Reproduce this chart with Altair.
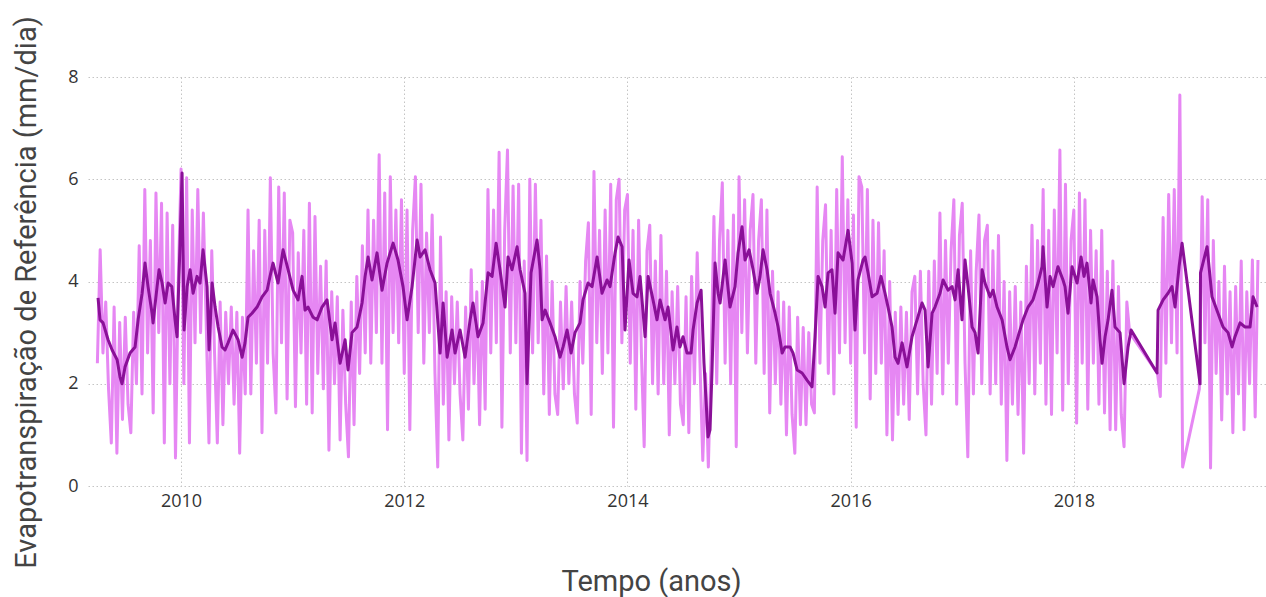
import altair as alt
import pandas as pd

# ---- Daily reference evapotranspiration (light series), sampled every 1/40 year ----
# 2009 starts at 2009 + 10/40
et0_2009 = [2.40, 4.62, 2.60, 3.60, 1.90, 0.84, 3.50, 0.64, 3.20, 1.30, 3.30, 1.60, 1.04, 3.40, 2.00,
            4.70, 1.80, 5.80, 2.60, 4.80, 1.43, 5.73, 3.00, 5.53, 0.84, 5.34, 2.00, 5.10, 0.55, 4.00]
et0_2010 = [6.20, 2.00, 6.03, 0.84, 5.40, 2.80, 5.80, 3.00, 5.34, 3.20, 0.84, 4.60, 2.60, 0.84, 3.60,
            1.20, 3.40, 2.00, 3.50, 1.60, 3.40, 0.64, 3.30, 1.80, 5.40, 1.80, 4.60, 2.40, 5.20, 1.04,
            5.00, 2.40, 6.03, 2.60, 1.43, 5.85, 2.80, 5.73, 1.70, 5.20]
et0_2011 = [4.95, 1.55, 4.56, 2.60, 5.00, 1.60, 5.53, 1.43, 5.27, 2.20, 4.30, 1.90, 4.40, 0.70, 3.80,
            2.00, 3.70, 0.90, 3.44, 1.60, 0.57, 3.60, 1.20, 4.10, 2.20, 4.70, 2.60, 5.40, 2.40, 5.20,
            3.00, 6.48, 2.40, 5.73, 1.10, 6.05, 3.00, 5.40, 2.80, 5.60]
et0_2012 = [2.20, 5.40, 1.10, 5.00, 6.05, 3.00, 5.90, 2.40, 4.95, 3.00, 5.30, 2.20, 0.37, 4.87, 1.60,
            3.80, 0.90, 3.70, 2.00, 3.60, 1.80, 0.90, 3.50, 1.50, 4.23, 2.00, 3.80, 1.20, 4.00, 1.50,
            5.80, 2.60, 5.40, 2.80, 6.53, 1.15, 5.00, 6.57, 2.60, 5.87]
et0_2013 = [2.80, 5.90, 0.64, 4.40, 0.50, 6.00, 2.60, 5.90, 2.80, 5.20, 1.80, 4.50, 1.40, 4.00, 1.80,
            1.40, 3.60, 1.90, 3.90, 2.00, 3.60, 1.80, 1.23, 4.00, 2.40, 4.40, 5.15, 1.40, 6.15, 2.80,
            5.00, 2.20, 5.40, 2.60, 5.90, 1.15, 5.60, 6.00, 2.80, 5.40]
et0_2014 = [5.70, 2.40, 5.00, 1.50, 5.20, 2.60, 0.77, 4.60, 5.10, 2.00, 4.40, 1.80, 4.90, 2.00, 4.20,
            1.00, 3.80, 2.00, 3.90, 1.60, 1.20, 3.70, 1.04, 4.10, 2.00, 4.56, 2.40, 0.50, 2.20, 0.37,
            2.60, 5.27, 2.00, 4.80, 5.93, 2.40, 5.00, 2.00, 5.30, 0.77]
et0_2015 = [6.05, 3.00, 5.60, 2.60, 5.00, 5.70, 2.40, 4.80, 5.60, 2.20, 5.40, 1.43, 4.20, 2.00, 3.80,
            1.60, 3.60, 1.00, 3.50, 1.40, 0.64, 3.30, 1.20, 3.10, 1.20, 3.00, 1.60, 1.43, 5.85, 2.40,
            4.80, 5.50, 2.20, 5.00, 1.80, 5.80, 2.60, 6.44, 2.80, 5.60]
et0_2016 = [2.40, 5.30, 1.15, 6.05, 5.85, 2.60, 5.80, 1.70, 5.20, 2.20, 5.15, 2.40, 4.60, 1.00, 4.00,
            0.90, 3.40, 1.40, 3.50, 1.60, 3.40, 1.30, 3.80, 4.10, 1.80, 4.20, 2.00, 1.00, 4.20, 1.60,
            4.40, 2.20, 5.34, 1.80, 4.80, 2.40, 4.60, 5.60, 1.60, 4.90]
et0_2017 = [5.53, 2.40, 0.57, 4.60, 1.80, 4.20, 5.30, 2.00, 4.80, 5.10, 1.80, 4.60, 2.00, 4.90, 1.60,
            4.00, 0.50, 3.80, 1.60, 3.90, 1.40, 3.60, 0.64, 4.30, 2.00, 5.10, 1.80, 4.80, 2.40, 5.80,
            1.60, 5.00, 1.40, 5.40, 2.60, 6.57, 1.48, 5.90, 2.00, 4.80]
et0_2018 = [5.40, 1.23, 5.73, 2.40, 5.60, 1.50, 5.00, 2.40, 4.60, 1.60, 5.00, 1.43, 4.20, 1.10, 4.40,
            1.10, 3.90, 1.40, 0.77, 3.60, 3.00, None, None, None, None, None, None, None, None, None,
            2.20, 1.75, 5.25, 2.40, 5.70, 2.80, 5.80, 2.60, 7.65, 0.37]
et0_2019 = [None, None, None, None, None, 1.90, 5.66, 2.80, 5.60, 0.35, 4.80, 2.20, 4.00, 1.29, 4.30,
            1.80, 3.80, 1.04, 3.90, 1.80, 4.40, 1.10, 3.80, 2.00, 4.42, 1.35, 4.42]

light_years = [(2009, 10, et0_2009), (2010, 0, et0_2010), (2011, 0, et0_2011), (2012, 0, et0_2012),
               (2013, 0, et0_2013), (2014, 0, et0_2014), (2015, 0, et0_2015), (2016, 0, et0_2016),
               (2017, 0, et0_2017), (2018, 0, et0_2018), (2019, 0, et0_2019)]

# ---- Moving average (dark series) ----
ma_year = [
    2009.256, 2009.274, 2009.301, 2009.346, 2009.382, 2009.427, 2009.453, 2009.471, 2009.498, 2009.543,
    2009.588, 2009.615, 2009.651, 2009.677, 2009.704, 2009.740, 2009.749, 2009.785, 2009.803, 2009.830,
    2009.857, 2009.884, 2009.917, 2009.946, 2009.964, 2009.991,
    2010.009, 2010.027, 2010.054, 2010.081, 2010.108, 2010.143, 2010.170, 2010.197, 2010.233, 2010.251,
    2010.278, 2010.305, 2010.332, 2010.367, 2010.394, 2010.421, 2010.466, 2010.511, 2010.547, 2010.573,
    2010.600, 2010.636, 2010.681, 2010.726, 2010.771, 2010.797, 2010.824, 2010.869, 2010.914, 2010.959,
    2011.004, 2011.048, 2011.084, 2011.111, 2011.138, 2011.183, 2011.219, 2011.263, 2011.308, 2011.353,
    2011.380, 2011.425, 2011.470, 2011.496, 2011.532, 2011.577, 2011.622, 2011.649, 2011.676, 2011.711,
    2011.756, 2011.801, 2011.846, 2011.900, 2011.944, 2011.989,
    2012.025, 2012.070, 2012.115, 2012.142, 2012.186, 2012.231, 2012.276, 2012.321, 2012.348, 2012.384,
    2012.428, 2012.455, 2012.500, 2012.545, 2012.590, 2012.616, 2012.661, 2012.706, 2012.751, 2012.787,
    2012.823, 2012.858, 2012.903, 2012.930, 2012.966,
    2013.011, 2013.038, 2013.082, 2013.100, 2013.136, 2013.190, 2013.217, 2013.235, 2013.262, 2013.306,
    2013.351, 2013.396, 2013.423, 2013.459, 2013.495, 2013.530, 2013.575, 2013.602, 2013.647, 2013.683,
    2013.728, 2013.772, 2013.817, 2013.844, 2013.889, 2013.916, 2013.952, 2013.978,
    2014.014, 2014.050, 2014.086, 2014.113, 2014.158, 2014.185, 2014.229, 2014.265, 2014.292, 2014.337,
    2014.364, 2014.409, 2014.444, 2014.471, 2014.498, 2014.534, 2014.570, 2014.588, 2014.624, 2014.660,
    2014.686, 2014.722, 2014.740, 2014.758, 2014.785, 2014.812, 2014.830, 2014.875, 2014.919, 2014.964,
    2014.991,
    2015.027, 2015.054, 2015.090, 2015.126, 2015.161, 2015.188, 2015.215, 2015.251, 2015.278, 2015.323,
    2015.350, 2015.386, 2015.412, 2015.457, 2015.484, 2015.520, 2015.565, 2015.609, 2015.654, 2015.681,
    2015.708, 2015.744, 2015.771, 2015.798, 2015.833, 2015.860, 2015.887, 2015.932, 2015.977,
    2016.013, 2016.039, 2016.066, 2016.111, 2016.129, 2016.156, 2016.192, 2016.237, 2016.272, 2016.308,
    2016.335, 2016.371, 2016.398, 2016.425, 2016.461, 2016.505, 2016.550, 2016.595, 2016.640, 2016.667,
    2016.694, 2016.730, 2016.756, 2016.801, 2016.828, 2016.873, 2016.909, 2016.936, 2016.963, 2016.998,
    2017.025, 2017.052, 2017.088, 2017.115, 2017.142, 2017.178, 2017.204, 2017.249, 2017.276, 2017.312,
    2017.357, 2017.401, 2017.428, 2017.473, 2017.500, 2017.545, 2017.590, 2017.634, 2017.679, 2017.715,
    2017.724, 2017.760, 2017.787, 2017.814, 2017.858, 2017.903, 2017.921, 2017.948, 2017.984,
    2018.029, 2018.065, 2018.091, 2018.118, 2018.154, 2018.172, 2018.208, 2018.235, 2018.253, 2018.280,
    2018.307, 2018.342, 2018.369, 2018.414, 2018.450, 2018.486, 2018.513, 2018.746, 2018.755, 2018.800,
    2018.844, 2018.880, 2018.907, 2018.943, 2018.970,
    2019.131, 2019.135, 2019.194, 2019.238, 2019.292, 2019.337, 2019.382, 2019.418, 2019.444, 2019.489,
    2019.534, 2019.579, 2019.606, 2019.642,
]
ma_value = [
    3.68, 3.25, 3.19, 2.86, 2.66, 2.47, 2.13, 2.00, 2.33, 2.60,
    2.72, 3.25, 3.77, 4.36, 3.90, 3.38, 3.19, 3.90, 4.23, 3.97,
    3.58, 3.97, 3.90, 3.25, 2.92, 4.75,
    6.12, 3.05, 3.90, 4.23, 3.77, 4.10, 3.97, 4.62, 3.90, 2.66,
    3.97, 3.50, 3.11, 2.72, 2.66, 2.80, 3.05, 2.86, 2.52, 2.80,
    3.30, 3.38, 3.50, 3.70, 3.83, 4.10, 4.36, 3.97, 4.62, 4.23,
    3.83, 3.64, 4.10, 3.44, 3.50, 3.30, 3.25, 3.50, 3.64, 2.86,
    3.19, 2.40, 2.86, 2.27, 3.00, 3.11, 3.58, 4.10, 4.48, 4.03,
    4.56, 3.83, 4.36, 4.75, 4.42, 3.90,
    3.25, 3.90, 4.81, 4.48, 4.62, 4.23, 3.97, 2.60, 3.58, 2.52,
    3.05, 2.60, 3.05, 2.52, 3.25, 3.58, 2.92, 3.19, 4.17, 4.10,
    4.75, 4.23, 3.50, 4.48, 4.23,
    4.68, 4.23, 3.77, 2.00, 4.17, 4.81, 4.23, 3.25, 3.44, 3.19,
    2.92, 2.52, 2.72, 3.05, 2.60, 3.00, 3.19, 3.64, 3.97, 3.90,
    4.48, 3.77, 4.03, 3.90, 4.56, 4.87, 4.68, 3.05,
    4.42, 3.77, 3.70, 4.10, 2.92, 4.10, 3.64, 3.25, 3.64, 3.25,
    3.50, 2.66, 3.11, 2.72, 2.92, 2.60, 2.60, 3.05, 3.58, 3.83,
    2.40, 0.96, 1.10, 2.27, 4.36, 3.77, 3.58, 4.42, 3.50, 3.90,
    4.56,
    5.07, 4.42, 4.62, 4.23, 3.77, 4.10, 4.62, 4.23, 3.77, 3.38,
    3.11, 2.60, 2.72, 2.72, 2.60, 2.27, 2.21, 2.07, 1.94, 2.92,
    4.10, 3.90, 3.50, 4.17, 4.23, 3.38, 4.56, 4.42, 5.00,
    4.36, 3.05, 4.03, 4.42, 4.48, 4.17, 3.70, 3.77, 4.10, 3.77,
    3.50, 3.11, 2.52, 2.40, 2.80, 2.33, 2.92, 3.25, 3.58, 3.44,
    2.33, 3.38, 3.50, 3.77, 4.03, 3.83, 3.90, 3.64, 4.23, 3.25,
    4.42, 3.90, 3.11, 3.00, 2.60, 4.23, 3.97, 3.70, 3.83, 3.50,
    3.25, 2.72, 2.47, 2.72, 2.92, 3.25, 3.50, 3.64, 3.97, 4.29,
    4.68, 3.50, 4.10, 3.90, 4.29, 4.03, 3.90, 3.38, 4.29,
    3.97, 4.48, 4.10, 4.36, 3.58, 4.03, 3.70, 2.86, 2.40, 2.92,
    3.25, 3.83, 3.11, 3.00, 2.00, 2.72, 3.05, 2.21, 3.44, 3.64,
    3.77, 3.90, 3.50, 4.29, 4.75,
    2.00, 4.17, 4.68, 3.70, 3.38, 3.11, 3.00, 2.72, 2.92, 3.19,
    3.11, 3.11, 3.70, 3.50,
]

x_ticks = [2010, 2012, 2014, 2016, 2018]
y_ticks = [0, 2, 4, 6, 8]

# ---- tables ----
light_rows = []
for year, start, vals in light_years:
    for k, v in enumerate(vals):
        if v is not None:
            light_rows.append({"ano": year + (start + k) / 40.0, "et0": v})
light_df = pd.DataFrame(light_rows)
ma_df = pd.DataFrame({"ano": ma_year, "et0": ma_value})

x_scale = alt.Scale(domain=[2009.166, 2019.722], nice=False, zero=False)
y_scale = alt.Scale(domain=[0, 8], nice=False)

x_axis = alt.Axis(
    values=x_ticks, format="d", title="Tempo (anos)",
    domain=False, ticks=False, grid=True,
    gridDash=[1.5, 2.5], gridColor="#c4c4c4", gridWidth=1,
    labelFont="Open Sans", labelFontSize=18, labelColor="#333333", labelPadding=6,
    titleFont="Roboto", titleFontSize=29, titleFontWeight="normal", titleColor="#444444",
    titleX=563, titleY=104, titleAlign="center", titleBaseline="alphabetic",
)
y_axis = alt.Axis(
    values=y_ticks, format="d", title="Evapotranspiração de Referência (mm/dia)",
    domain=False, ticks=False, grid=True,
    gridDash=[1.5, 2.5], gridColor="#c4c4c4", gridWidth=1,
    labelFont="Open Sans", labelFontSize=18, labelColor="#333333", labelPadding=10,
    titleFont="Roboto", titleFontSize=29, titleFontWeight="normal", titleColor="#444444",
    titleX=-53, titleY=215, titleAlign="center", titleBaseline="alphabetic", titleAngle=270,
)

x_enc = alt.X("ano:Q", scale=x_scale, axis=x_axis)
y_enc = alt.Y("et0:Q", scale=y_scale, axis=y_axis)

light = alt.Chart(light_df).mark_line(color="#E687F3", strokeWidth=3, strokeJoin="round").encode(
    x=x_enc, y=y_enc, order="ano:Q",
)
dark = alt.Chart(ma_df).mark_line(color="#8A1098", strokeWidth=3, strokeJoin="round").encode(
    x=x_enc, y=y_enc, order="ano:Q",
)

chart = alt.layer(light, dark).properties(
    width=1178, height=409,
    autosize=alt.AutoSizeParams(type="none"),
    padding={"left": 88, "top": 77, "right": 0, "bottom": 111},
    background="white",
).configure_view(stroke=None)

chart.save("out.html", embed_options={"renderer": "svg", "actions": False})
